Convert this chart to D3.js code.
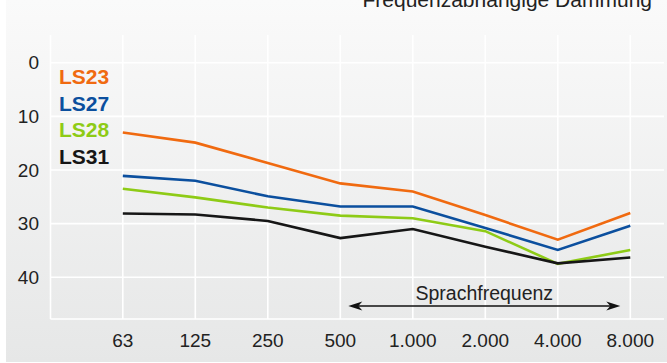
<!DOCTYPE html>
<html><head><meta charset="utf-8">
<script src="https://cdn.jsdelivr.net/npm/d3@7"></script>
<style>html,body{margin:0;padding:0;background:#fff;overflow:hidden}</style>
</head><body>
<svg id="c" width="667" height="363"></svg>
<script>
const categories = ["63","125","250","500","1.000","2.000","4.000","8.000"];
const yTicks = [0,10,20,30,40];
const seriesNames = ["LS23","LS27","LS28","LS31"];
const seriesColors = ["#f06a10","#0b4f9e","#8ecb16","#161616"];
const ls23 = [13.0,14.9,18.7,22.5,24.0,28.4,33.0,28.0];
const ls27 = [21.1,22.0,24.9,26.8,26.8,30.8,34.9,30.4];
const ls28 = [23.5,25.1,27.0,28.5,29.0,31.4,37.5,34.9];
const ls31 = [28.1,28.3,29.5,32.7,31.0,34.3,37.4,36.3];
const seriesValues = [ls23,ls27,ls28,ls31];
const title = "Frequenzabhängige Dämmung";
const arrowLabel = "Sprachfrequenz";

(function(){
const svg = d3.select("#c");
const defs = svg.append("defs");
const g = defs.append("linearGradient").attr("id","bg").attr("x1",0).attr("y1",0).attr("x2",0).attr("y2",1);
g.append("stop").attr("offset","0%").attr("stop-color","#fafafa");
g.append("stop").attr("offset","100%").attr("stop-color","#e6e7e7");
svg.append("rect").attr("x",6).attr("y",0).attr("width",661).attr("height",362).attr("fill","url(#bg)");

const pLeft=50.5, pRight=664, pTop=35, pBottom=319;
const x = d3.scalePoint().domain(categories).range([122.8,630.3]);
const y = d3.scaleLinear().domain([0,40]).range([62.7,277.3]);

// grid
const grid = svg.append("g").attr("stroke","#ffffff").attr("stroke-width",1.6);
grid.selectAll("line.h").data(yTicks).join("line").attr("class","h")
  .attr("x1",pLeft).attr("x2",pRight).attr("y1",d=>y(d)).attr("y2",d=>y(d));
grid.selectAll("line.v").data(categories).join("line").attr("class","v")
  .attr("x1",d=>x(d)).attr("x2",d=>x(d)).attr("y1",pTop).attr("y2",pBottom);
grid.append("line").attr("x1",pLeft).attr("x2",pLeft).attr("y1",pTop).attr("y2",pBottom);
grid.append("line").attr("x1",pLeft).attr("x2",pRight).attr("y1",pBottom).attr("y2",pBottom);

// axes labels
const font = "'Liberation Sans', Arial, Helvetica, sans-serif";
svg.append("g").selectAll("text").data(yTicks).join("text")
  .attr("x",39).attr("y",d=>y(d)).attr("dy","0.35em").attr("text-anchor","end")
  .attr("font-family",font).attr("font-size",19).attr("fill","#222").text(d=>d);
svg.append("g").selectAll("text").data(categories).join("text")
  .attr("x",d=>x(d)).attr("y",347).attr("text-anchor","middle")
  .attr("font-family",font).attr("font-size",19).attr("fill","#222").text(d=>d);

// title (cut off at the top, as in the reference)
svg.append("text").attr("x",652).attr("y",7).attr("text-anchor","end")
  .attr("font-family",font).attr("font-size",21).attr("fill","#222").text(title);

// lines
const line = d3.line().x((d,i)=>x(categories[i])).y(d=>y(d));
svg.append("g").selectAll("path").data(seriesValues).join("path")
  .attr("d",d=>line(d)).attr("fill","none")
  .attr("stroke",(d,i)=>seriesColors[i]).attr("stroke-width",2.6)
  .attr("stroke-linejoin","miter");

// legend
svg.append("g").selectAll("text").data(seriesNames).join("text")
  .attr("x",59).attr("y",(d,i)=>76.7+i*26.5).attr("dy","0.36em")
  .attr("font-family",font).attr("font-weight","bold").attr("font-size",21)
  .attr("fill",(d,i)=>seriesColors[i]).text(d=>d);

// arrow
const ax1 = x("500")+8, ax2 = x("8.000")-10, ay = 306;
svg.append("line").attr("x1",ax1+6).attr("x2",ax2-6).attr("y1",ay).attr("y2",ay)
  .attr("stroke","#111").attr("stroke-width",1.3);
svg.append("path").attr("d",`M${ax1},${ay} L${ax1+14},${ay-4.5} L${ax1+10},${ay} L${ax1+14},${ay+4.5} Z`).attr("fill","#111");
svg.append("path").attr("d",`M${ax2},${ay} L${ax2-14},${ay-4.5} L${ax2-10},${ay} L${ax2-14},${ay+4.5} Z`).attr("fill","#111");
svg.append("text").attr("x",(ax1+ax2)/2).attr("y",300).attr("text-anchor","middle")
  .attr("font-family",font).attr("font-size",19.5).attr("fill","#222").text(arrowLabel);
})();
</script>
</body></html>
